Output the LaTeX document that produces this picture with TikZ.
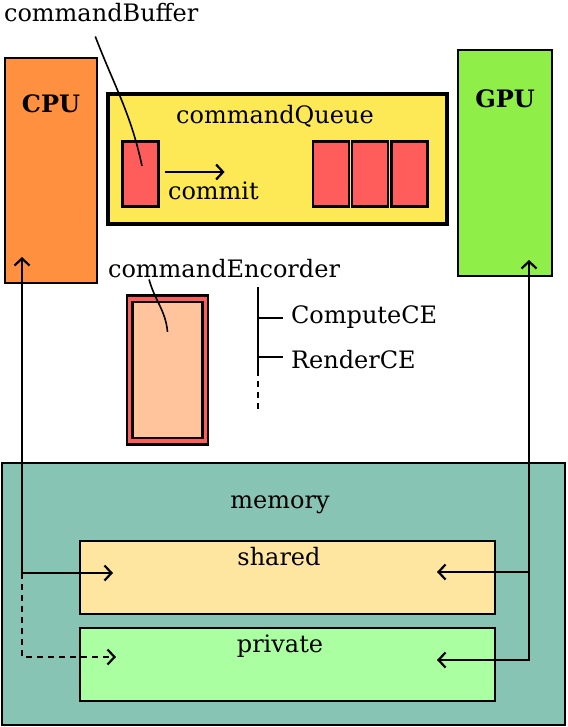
\documentclass[tikz,border=0pt]{standalone}
\usepackage{fontspec}
\setmainfont{DejaVu Serif}
\usetikzlibrary{arrows.meta}
\definecolor{cpuorange}{HTML}{FF9040}
\definecolor{gpugreen}{HTML}{90EE48}
\definecolor{queueyellow}{HTML}{FCE955}
\definecolor{bufred}{HTML}{FF5C5C}
\definecolor{encpeach}{HTML}{FFC49C}
\definecolor{memteal}{HTML}{88C4B4}
\definecolor{sharedyellow}{HTML}{FFE6A0}
\definecolor{privgreen}{HTML}{AAFFA0}
\begin{document}
\begin{tikzpicture}[x=1pt, y=-1pt, line width=2.2pt,
	>={Straight Barb[length=7pt, width=15pt]},
	box/.style={draw, rectangle, inner sep=0pt},
	cmdbuf/.style={box, fill=bufred, minimum width=36, minimum height=65},
	txt/.style={inner sep=0pt, font=\fontsize{24}{28}\selectfont},
	lead/.style={line width=1.6pt},
	dots/.style={dash pattern=on 6pt off 5pt}]
	\useasboundingbox (0,0) rectangle (567,727);
	% boxes
	\node[box, fill=memteal, line width=2.6pt, minimum width=563, minimum height=262] (mem) at (283.5,594) {};
	\node[box, fill=sharedyellow, minimum width=415, minimum height=73] (shared) at (287.5,577.5) {};
	\node[box, fill=privgreen, minimum width=415, minimum height=73] (private) at (287.5,664.5) {};
	\node[box, fill=cpuorange, minimum width=92, minimum height=225] (cpu) at (51,170.5) {};
	\node[box, fill=gpugreen, minimum width=94, minimum height=226] (gpu) at (505,163) {};
	\node[box, fill=queueyellow, line width=3.5pt, minimum width=339, minimum height=130] (queue) at (277.5,159) {};
	\node[cmdbuf] (buf) at (140.5,174) {};
	\foreach \x [count=\i] in {331,370,409.5}
		\node[cmdbuf] (q\i) at (\x,174) {};
	\node[box, fill=bufred, minimum width=81, minimum height=149] (enc) at (167.5,370) {};
	\node[box, fill=encpeach, minimum width=70, minimum height=136] (encin) at (167.5,370) {};
	% labels
	\node[txt, anchor=base west] (buflbl) at (3,22) {commandBuffer};
	\node[txt, anchor=base, font=\fontsize{24}{28}\selectfont\bfseries] (cpulbl) at (51,113) {CPU};
	\node[txt, anchor=base, font=\fontsize{24}{28}\selectfont\bfseries] (gpulbl) at (505,108) {GPU};
	\node[txt, anchor=base] (queuelbl) at (275,124) {commandQueue};
	\node[txt, anchor=base west] (commitlbl) at (167,200) {commit};
	\node[txt, anchor=base west] (enclbl) at (107,277) {commandEncorder};
	\node[txt, anchor=base west] (complbl) at (290,323) {ComputeCE};
	\node[txt, anchor=base west] (rendlbl) at (290,368) {RenderCE};
	\node[txt, anchor=base] (memlbl) at (280,508) {memory};
	\node[txt, anchor=base] (sharedlbl) at (279,565) {shared};
	\node[txt, anchor=base] (privlbl) at (280,652) {private};
	% leaders
	\draw[lead] ([xshift=-6pt, yshift=-13pt]buflbl.south) to[out=-69, in=102] ([xshift=1.5pt, yshift=8pt]buf.center);
	\draw[lead] ([xshift=-75pt, yshift=-1pt]enclbl.south) to[out=-75, in=95] ([yshift=-31pt]encin.north);
	\draw[->] ([xshift=5pt, yshift=2pt]buf.east) -- ++(60,0);
	% encoder kinds
	\draw[lead] (258,287) -- (258,370);
	\draw[lead, dots] (258,370) -- (258,410);
	\draw[lead] (258,318) -- ([xshift=-7pt]complbl.west |- 0,318);
	\draw[lead] (258,357) -- ([xshift=-7pt]rendlbl.west |- 0,357);
	% memory access
	\coordinate (cpuin) at (22,257);
	\coordinate (cpush) at (113,573);
	\coordinate (cpupriv) at (116,657);
	\coordinate (gpuin) at (529,260);
	\coordinate (gpush) at (437,572);
	\coordinate (gpupriv) at (437,660);
	\draw[<->] (cpuin) |- (cpush);
	\draw[->, dots] (cpuin |- cpush) |- (cpupriv);
	\draw[<->] (gpuin) |- (gpush);
	\draw[->] (gpuin |- gpush) |- (gpupriv);
\end{tikzpicture}
\end{document}
